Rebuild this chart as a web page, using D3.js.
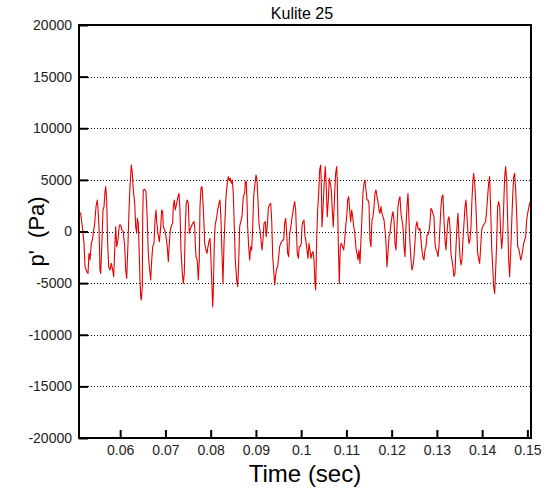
<!DOCTYPE html>
<html>
<head>
<meta charset="utf-8">
<script src="https://cdn.jsdelivr.net/npm/d3@7"></script>
<style>
  html, body { margin: 0; padding: 0; background: #fff; }
  svg { display: block; }
  text { font-family: "Liberation Sans", Arial, Helvetica, sans-serif; }
</style>
</head>
<body>
<svg id="chart" width="547" height="488"></svg>
<script>
// Kulite 25 pressure fluctuation record
const chartTitle = "Kulite 25";
const xTitle = "Time (sec)";
const yTitle = "p'  (Pa)";

const xDomain = [0.0509, 0.1508];
const yDomain = [-20000, 20000];

const xTickValues = [0.06, 0.07, 0.08, 0.09, 0.10, 0.11, 0.12, 0.13, 0.14, 0.15];
const xTickLabels = ["0.06", "0.07", "0.08", "0.09", "0.1", "0.11", "0.12", "0.13", "0.14", "0.15"];
const yTickValues = [-20000, -15000, -10000, -5000, 0, 5000, 10000, 15000, 20000];
const yTickLabels = ["-20000", "-15000", "-10000", "-5000", "0", "5000", "10000", "15000", "20000"];

// sample times (s)
const time = [
  0.05094, 0.05128, 0.05163, 0.05201, 0.05223, 0.05260, 0.05289, 0.05311, 0.05333, 0.05362,
  0.05384, 0.05406, 0.05437, 0.05466, 0.05494, 0.05510, 0.05532, 0.05554, 0.05570, 0.05598,
  0.05620, 0.05643, 0.05665, 0.05680, 0.05702, 0.05724, 0.05746, 0.05775, 0.05804, 0.05835,
  0.05857, 0.05879, 0.05901, 0.05923, 0.05952, 0.05981, 0.06012, 0.06040, 0.06069, 0.06100,
  0.06122, 0.06144, 0.06173, 0.06195, 0.06217, 0.06246, 0.06268, 0.06290,
  0.06321, 0.06343, 0.06365, 0.06378, 0.06401, 0.06423, 0.06438, 0.06454, 0.06467, 0.06489,
  0.06498, 0.06511, 0.06542, 0.06571, 0.06599, 0.06622, 0.06644, 0.06675, 0.06697, 0.06719,
  0.06748, 0.06770, 0.06792, 0.06807, 0.06836, 0.06865, 0.06896, 0.06918, 0.06940, 0.06953,
  0.06984, 0.07013, 0.07041, 0.07064, 0.07086, 0.07108, 0.07139, 0.07161, 0.07174, 0.07196,
  0.07218, 0.07249, 0.07278, 0.07300, 0.07322, 0.07344, 0.07373, 0.07395, 0.07417, 0.07439,
  0.07461, 0.07483, 0.07506, 0.07528, 0.07543, 0.07572, 0.07603, 0.07632, 0.07647, 0.07660,
  0.07676, 0.07704, 0.07727, 0.07749, 0.07764, 0.07786, 0.07808, 0.07824, 0.07846, 0.07868,
  0.07897, 0.07919, 0.07941, 0.07970, 0.07985, 0.08001, 0.08023, 0.08045, 0.08058, 0.08080,
  0.08102, 0.08124, 0.08155, 0.08184, 0.08206, 0.08228, 0.08250, 0.08272, 0.08295, 0.08317,
  0.08339, 0.08367, 0.08390, 0.08412, 0.08434, 0.08456, 0.08478, 0.08500, 0.08522, 0.08544,
  0.08575, 0.08597, 0.08619, 0.08641, 0.08664, 0.08692, 0.08721, 0.08752, 0.08765, 0.08787,
  0.08803, 0.08818, 0.08840, 0.08862, 0.08885, 0.08907, 0.08929, 0.08951, 0.08973, 0.09002,
  0.09024, 0.09046, 0.09068, 0.09090, 0.09112, 0.09134, 0.09156, 0.09179, 0.09207, 0.09229,
  0.09251, 0.09274, 0.09296, 0.09327, 0.09349, 0.09371, 0.09393, 0.09415, 0.09437, 0.09459,
  0.09481, 0.09503, 0.09525, 0.09548, 0.09570, 0.09592, 0.09614, 0.09636, 0.09658, 0.09680,
  0.09702, 0.09724, 0.09746, 0.09769, 0.09791, 0.09813, 0.09835, 0.09857, 0.09879, 0.09892,
  0.09914, 0.09937, 0.09959, 0.09981, 0.10003, 0.10018, 0.10040, 0.10063, 0.10085, 0.10107,
  0.10129, 0.10151, 0.10173, 0.10195, 0.10217, 0.10239, 0.10261, 0.10284, 0.10306, 0.10321,
  0.10343, 0.10365, 0.10387, 0.10409, 0.10432, 0.10445, 0.10460, 0.10482, 0.10505, 0.10533,
  0.10555, 0.10577, 0.10600, 0.10622, 0.10644, 0.10666, 0.10688, 0.10710, 0.10741, 0.10763,
  0.10785, 0.10798, 0.10821, 0.10843, 0.10865, 0.10887, 0.10918, 0.10940, 0.10962, 0.10984,
  0.11006, 0.11028, 0.11050, 0.11072, 0.11095, 0.11117, 0.11139, 0.11161, 0.11183, 0.11212,
  0.11234, 0.11256, 0.11278, 0.11300, 0.11322, 0.11344, 0.11366, 0.11389, 0.11411, 0.11433,
  0.11455, 0.11477, 0.11499, 0.11521, 0.11543, 0.11565, 0.11587, 0.11610, 0.11632, 0.11654,
  0.11676, 0.11698, 0.11720, 0.11742, 0.11764, 0.11786, 0.11808, 0.11831, 0.11853, 0.11875,
  0.11897, 0.11919, 0.11941, 0.11963, 0.11985, 0.12007, 0.12029, 0.12052, 0.12074, 0.12096,
  0.12118, 0.12140, 0.12162, 0.12184, 0.12206, 0.12228, 0.12250, 0.12273, 0.12295, 0.12317,
  0.12339, 0.12361, 0.12383, 0.12405, 0.12427, 0.12449, 0.12471, 0.12494, 0.12516, 0.12538,
  0.12560, 0.12582, 0.12604, 0.12626, 0.12648, 0.12670, 0.12692, 0.12715, 0.12737, 0.12759,
  0.12781, 0.12803, 0.12825, 0.12847, 0.12869, 0.12891, 0.12913, 0.12936, 0.12958, 0.12980,
  0.13002, 0.13024, 0.13046, 0.13068, 0.13090, 0.13112, 0.13134, 0.13157, 0.13179, 0.13201,
  0.13223, 0.13245, 0.13267, 0.13289, 0.13311, 0.13333, 0.13355, 0.13378, 0.13400, 0.13422,
  0.13444, 0.13466, 0.13488, 0.13510, 0.13532, 0.13554, 0.13576, 0.13599, 0.13621, 0.13643,
  0.13665, 0.13687, 0.13709, 0.13731, 0.13753, 0.13775, 0.13797, 0.13813, 0.13835, 0.13857,
  0.13879, 0.13901, 0.13923, 0.13945, 0.13968, 0.13990, 0.14012, 0.14034, 0.14056, 0.14078,
  0.14100, 0.14122, 0.14144, 0.14166, 0.14189, 0.14211, 0.14233, 0.14255, 0.14277, 0.14299,
  0.14321, 0.14343, 0.14365, 0.14387, 0.14410, 0.14432, 0.14454, 0.14476, 0.14498, 0.14520,
  0.14542, 0.14564, 0.14586, 0.14608, 0.14630, 0.14653, 0.14675, 0.14697, 0.14719, 0.14741,
  0.14763, 0.14785, 0.14807, 0.14829, 0.14852, 0.14874, 0.14896, 0.14918, 0.14940, 0.14962,
  0.14984, 0.15006, 0.15028, 0.15050, 0.15073
];

// fluctuating pressure p' (Pa)
const pressure = [
  1900, 1760, 468, -1147, -3408, -3893, -4054, -2116, -2762, -1147,
  -824, -178, 791, 2406, 3052, 2245, 468, -3731, -4054, -824,
  2083, 2406, 3860, 4344, 3052, -1147, -3408, -3731, -3085, -3731,
  -4377, -1793, 468, -1470, -824, 629, 629, 145, -17, -1470,
  -3731, -4539, -1147, 2083, 4344, 6444, 5636, 4021,
  2729, 468, -178, 1276, 791, -2439, -4700, -6315, -6638, -5346,
  1437, 4021, 4086, 3860, 1114, -2116, -3408, -4700, -2762, -1470,
  -1147, 1114, 2083, 952, -178, -986, 468, 2083, 1922, 468,
  145, -501, -1470, -2924, -1147, 145, 629, 791, 2406, 3052,
  2083, 2729, 3375, 3698, 2083, -1793, -4054, -5023, -4054, 468,
  2729, 3052, 2729, -178, 145, 468, 791, 952, 468, -1147,
  -2439, -2762, -4700, -2762, 2406, 4183, 4344, 3375, 1437, -1147,
  -1793, -2116, -1470, -824, -663, -2116, -4700, -7284, -5992, -1147,
  791, 1114, 2083, 2729, 3052, 1114, -2116, -5023, -1147, 1114,
  3375, 4667, 5313, 4990, 5152, 4667, 4990, 3698, 468, -2762,
  -4700, -5346, -3085, 468, 952, 1437, 3375, 3698, 4829, 4829,
  3052, 468, -1470, -2762, -1470, -1793, 468, 3375, 4344, 5475,
  4990, 3052, 791, 145, -824, -1793, -824, 791, 952, -501,
  468, 2245, 2568, 2729, 1114, -2439, -3731, -5184, -4216, -3570,
  -3408, -2439, -1470, -1147, -986, -824, -824, 791, 1276, -178,
  -2116, -2439, -178, 306, 1114, 1760, 2406, 2891, 2083, 468,
  -2116, -2601, -1470, -1470, -1147, 468, 952, 1114, -501, -986,
  -1793, -2601, -1147, -1793, -2601, -2116, -1954, -2762, -5023, -5669,
  -824, 2083, 3698, 5959, 6444, 4667, 468, 2083, 4344, 6282,
  4344, 1437, 3052, 5152, 4667, 4021, 2083, 468, 3698, 5636,
  6282, 4990, -1147, -5023, -1470, -1147, -1470, -1793, -824, 468,
  1437, 3052, 3375, 2083, 952, 2083, 1437, 468, -17, -1631,
  -2116, -2762, -1793, -3085, -824, 1437, 3698, 4667, 4990, 4021,
  3052, 3052, 2729, -824, -1470, 1114, 1437, 2406, 3698, 4021,
  3375, 2891, 2083, 1760, 2406, 1760, 1437, 1114, 145, -1147,
  -3408, -2116, -501, -178, 791, 1437, 1922, 1114, -1147, -1793,
  468, 2406, 3052, 3375, 1760, 1114, 468, -1470, -2439, 468,
  2406, 3698, 1114, -1147, -2762, -3731, -3408, -2439, -1000, 500,
  952, 300, 145, 300, -800, -1800, -2500, -2762, -1793, -1470,
  -340, -340, 0, 791, 2245, 2083, 1760, 1437, -1147, -1793,
  -1954, -2439, -1470, 468, 2406, 3375, 3537, 1114, -824, -1793,
  -178, 1114, 1437, 468, -2116, -2762, -3408, -4377, -4054, -1470,
  468, 1760, -501, -2439, -3246, -2762, -824, 791, 2406, 3052,
  1437, -178, -1147, -824, 468, 3052, 4990, 5636, 4667, 3052,
  468, -2116, -2601, -3085, -1470, 145, 468, 629, 791, 952,
  2083, 3375, 4667, 5313, 2083, -1470, -3408, -5346, -5992, -3731,
  -1147, 2406, 2891, 2406, -178, -1631, -501, 2406, 5313, 6282,
  4990, 1114, -2762, -4377, -2116, 791, 3375, 5313, 5636, 4021,
  1760, -1470, -1631, -2116, -2762, -2439, -1793, -1147, -824, -501,
  1114, 1760, 2245, 2729, 2891
];

const W = 547, H = 488;
const margin = { left: 79, right: 16, top: 25, bottom: 50 };
const plotW = W - margin.left - margin.right;
const plotH = H - margin.top - margin.bottom;

const svg = d3.select("#chart");
svg.append("rect").attr("width", W).attr("height", H).attr("fill", "#fff");

const x = d3.scaleLinear().domain(xDomain).range([margin.left, margin.left + plotW]);
const y = d3.scaleLinear().domain(yDomain).range([margin.top + plotH, margin.top]);

// dotted horizontal grid
svg.append("g")
  .selectAll("line")
  .data(yTickValues.filter(v => v > yDomain[0] && v < yDomain[1]))
  .join("line")
  .attr("x1", margin.left).attr("x2", margin.left + plotW)
  .attr("y1", d => Math.round(y(d)) + 0.5).attr("y2", d => Math.round(y(d)) + 0.5)
  .attr("stroke", "#000").attr("stroke-width", 1).attr("stroke-dasharray", "1,2");

// signal trace
const pts = d3.zip(time, pressure);
const line = d3.line().x(d => x(d[0])).y(d => y(d[1]));
svg.append("defs").append("clipPath").attr("id", "plotClip")
  .append("rect").attr("x", margin.left).attr("y", margin.top).attr("width", plotW).attr("height", plotH);
svg.append("path")
  .datum(pts)
  .attr("clip-path", "url(#plotClip)")
  .attr("d", line)
  .attr("fill", "none")
  .attr("stroke", "#e60000")
  .attr("stroke-width", 1.1)
  .attr("stroke-linejoin", "round");

// left axis: ticks pointing into the plot, labels outside
const yAxis = d3.axisLeft(y)
  .tickValues(yTickValues)
  .tickFormat((d, i) => yTickLabels[i])
  .tickSizeInner(-9).tickSizeOuter(0).tickPadding(7);
const gy = svg.append("g").attr("transform", `translate(${margin.left},0)`).call(yAxis);
gy.select(".domain").remove();
gy.selectAll(".tick line").attr("stroke", "#000").attr("stroke-width", 2);
gy.selectAll(".tick text")
  .attr("fill", "#222").attr("font-size", 14)
  .style("font-family", "'Liberation Sans', Arial, sans-serif");

// bottom axis: ticks pointing up into the plot
const xAxis = d3.axisBottom(x)
  .tickValues(xTickValues)
  .tickFormat((d, i) => xTickLabels[i])
  .tickSizeInner(-8).tickSizeOuter(0).tickPadding(7);
const gx = svg.append("g").attr("transform", `translate(0,${margin.top + plotH})`).call(xAxis);
gx.select(".domain").remove();
gx.selectAll(".tick line").attr("stroke", "#000").attr("stroke-width", 2);
gx.selectAll(".tick text")
  .attr("fill", "#222").attr("font-size", 14)
  .style("font-family", "'Liberation Sans', Arial, sans-serif");

// frame
svg.append("rect")
  .attr("x", margin.left).attr("y", margin.top)
  .attr("width", plotW).attr("height", plotH)
  .attr("fill", "none").attr("stroke", "#000").attr("stroke-width", 2);

// titles
svg.append("text")
  .attr("x", 302).attr("y", 19)
  .attr("text-anchor", "middle").attr("font-size", 16).attr("fill", "#000")
  .text(chartTitle);

svg.append("text")
  .attr("x", 305).attr("y", 482)
  .attr("text-anchor", "middle").attr("font-size", 24).attr("fill", "#000")
  .text(xTitle);

svg.append("text")
  .attr("transform", `translate(44,${margin.top + plotH / 2}) rotate(-90)`)
  .attr("text-anchor", "middle").attr("font-size", 22).attr("fill", "#000")
  .style("white-space", "pre")
  .text(yTitle);
</script>
</body>
</html>
